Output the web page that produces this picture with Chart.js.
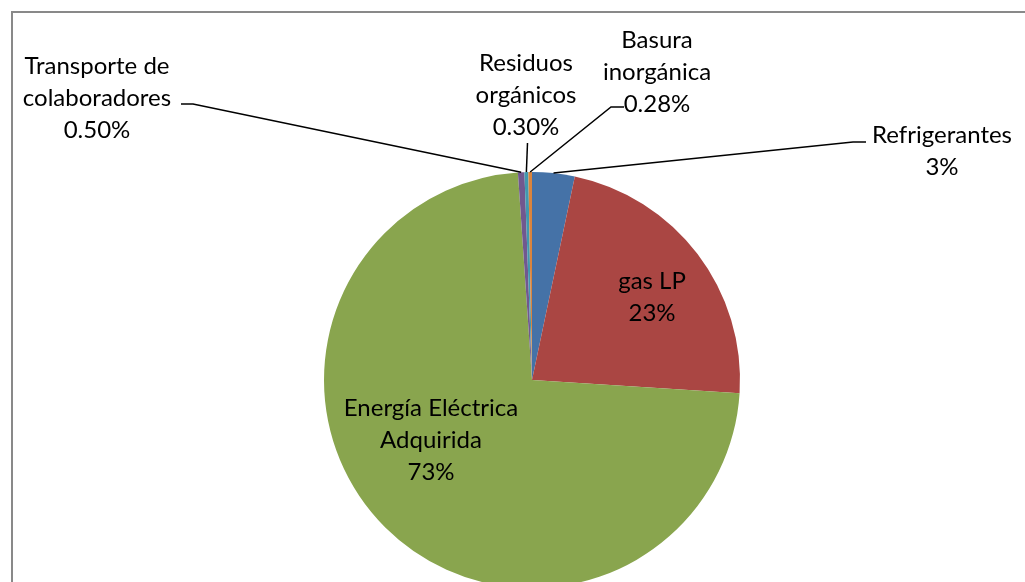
<!DOCTYPE html>
<html>
<head>
<meta charset="utf-8">
<script src="https://cdn.jsdelivr.net/npm/chart.js@4.4.1/dist/chart.umd.min.js"></script>
<style>
    html, body { margin: 0; padding: 0; background: #fff; overflow: hidden; }
    #wrap { position: absolute; left: 0; top: 0; width: 1025px; height: 760px; }
    #frame { position: absolute; left: 11px; top: 11px; width: 1100px; height: 800px;
             border-left: 2px solid #898989; border-top: 2px solid #898989; }
</style>
</head>
<body>
<div id="frame"></div>
<div id="wrap"><canvas id="pieEmisiones" width="1025" height="760"></canvas></div>
<script>
// emission sources, clockwise from 12 o'clock
const categories = ['Refrigerantes', 'gas LP', 'Energía Eléctrica Adquirida',
    'Transporte de colaboradores', 'Residuos orgánicos', 'Basura inorgánica'];
const values = [3.3, 22.7, 72.9, 0.50, 0.30, 0.28];
const pctLabels = ['3%', '23%', '73%', '0.50%', '0.30%', '0.28%'];
const colors = ['#4572A7', '#AA4643', '#89A54E', '#71588F', '#4198AF', '#DB843D'];

// where each data label sits and where its leader line starts
const labelLayout = [
    { lines: ['Refrigerantes'], x: 942, y: 135, leader: [[866, 142], [853, 142]] },
    { lines: ['gas LP'], x: 652, y: 281 },
    { lines: ['Energía Eléctrica', 'Adquirida'], x: 431, y: 408 },
    { lines: ['Transporte de', 'colaboradores'], x: 97, y: 66, leader: [[181, 104], [193, 104]] },
    { lines: ['Residuos', 'orgánicos'], x: 526, y: 63, leader: [[527.5, 143]] },
    { lines: ['Basura', 'inorgánica'], x: 657, y: 40, leader: [[624, 107], [611, 107]] }
];
const lineGap = 32;

const pieLabels = {
    id: 'pieLabels',
    afterDraw: function (chart) {
        var ctx = chart.ctx;
        var arcs = chart.getDatasetMeta(0).data;
        ctx.save();
        arcs.forEach(function (arc, i) {
            var lay = labelLayout[i];
            if (lay.leader) {
                var mid = (arc.startAngle + arc.endAngle) / 2;
                var ex = arc.x + arc.outerRadius * Math.cos(mid);
                var ey = arc.y + arc.outerRadius * Math.sin(mid);
                ctx.beginPath();
                ctx.moveTo(lay.leader[0][0], lay.leader[0][1]);
                for (var k = 1; k < lay.leader.length; k++) ctx.lineTo(lay.leader[k][0], lay.leader[k][1]);
                ctx.lineTo(ex, ey);
                ctx.strokeStyle = '#000';
                ctx.lineWidth = 1.5;
                ctx.stroke();
            }
            ctx.fillStyle = '#000';
            ctx.font = '24px Lato';
            ctx.textAlign = 'center';
            ctx.textBaseline = 'middle';
            var lines = lay.lines.concat([pctLabels[i]]);
            lines.forEach(function (t, j) {
                ctx.fillText(t, lay.x, lay.y + j * lineGap);
            });
        });
        ctx.restore();
    }
};

new Chart(document.getElementById('pieEmisiones').getContext('2d'), {
    type: 'pie',
    data: {
        labels: categories,
        datasets: [{
            data: values,
            backgroundColor: colors,
            borderWidth: 0
        }]
    },
    options: {
        responsive: false,
        animation: false,
        layout: { padding: { left: 324, right: 285, top: 172, bottom: 172 } },
        plugins: {
            legend: { display: false },
            tooltip: { enabled: false }
        }
    },
    plugins: [pieLabels]
});
</script>
</body>
</html>
